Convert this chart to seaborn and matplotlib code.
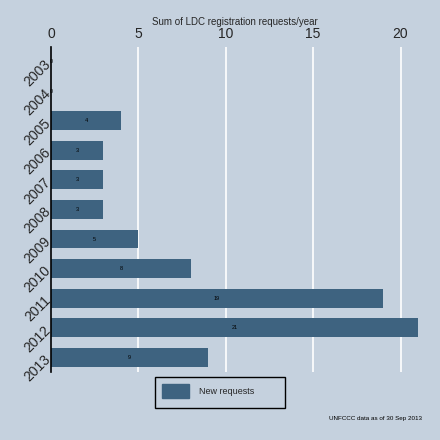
import matplotlib
matplotlib.use("Agg")
import matplotlib.pyplot as plt
from matplotlib.patches import Patch, Rectangle
import pandas as pd
import seaborn as sns

years = ["2003", "2004", "2005", "2006", "2007", "2008",
         "2009", "2010", "2011", "2012", "2013"]
requests = [0, 0, 4, 3, 3, 3, 5, 8, 19, 21, 9]
x_ticks = [0, 5, 10, 15, 20]

BG = "#c5d1de"
BAR = "#3e6380"

df = pd.DataFrame({"year": years, "requests": requests})

sns.set_style("white")
plt.rcParams["font.family"] = ["Liberation Sans", "DejaVu Sans"]

fig = plt.figure(figsize=(4.4, 4.4), dpi=100, facecolor=BG)
ax = fig.add_axes([51 / 440, 1 - 372 / 440, (418 - 51) / 440, (372 - 47) / 440])
ax.set_facecolor(BG)

sns.barplot(data=df, x="requests", y="year", orient="h", color=BAR,
            width=0.64, saturation=1, linewidth=0, edgecolor=BAR,
            ax=ax, zorder=2)

# value labels, centered in each bar
for i, v in enumerate(requests):
    ax.text(v / 2, i, str(v), ha="center", va="center", fontsize=4,
            color="black", zorder=3)

ax.set_xlim(0, 21)
ax.set_ylim(10.5, -0.5)
ax.set_xticks(x_ticks)
ax.xaxis.tick_top()
ax.xaxis.set_label_position("top")
ax.set_xlabel("Sum of LDC registration requests/year", fontsize=7, labelpad=2)
ax.set_ylabel("")
ax.tick_params(axis="x", length=0, pad=4, labelsize=10)
ax.tick_params(axis="y", length=0, pad=2, labelsize=10)
for lbl in ax.get_yticklabels():
    lbl.set_rotation(45)
    lbl.set_ha("right")
    lbl.set_va("center")
    lbl.set_rotation_mode("anchor")

for t in x_ticks[1:]:
    ax.axvline(t, color="white", lw=1.2, zorder=1)

for side in ["top", "right", "bottom"]:
    ax.spines[side].set_visible(False)
ax.spines["left"].set_color("black")
ax.spines["left"].set_linewidth(1.2)
ax.spines["left"].set_zorder(4)

# legend box drawn in figure pixels, legend entry inside it
fig.patches.append(Rectangle((155 / 440, 1 - 408 / 440), 130 / 440, 31 / 440,
                             transform=fig.transFigure, facecolor=BG,
                             edgecolor="black", linewidth=1))
fig.legend(handles=[Patch(facecolor=BAR, edgecolor=BAR, label="New requests")],
           loc="upper left", bbox_to_anchor=(162 / 440, 1 - 384 / 440),
           frameon=False, fontsize=6.5,
           handlelength=3.0, handleheight=2.0, handletextpad=1.1,
           borderpad=0, borderaxespad=0)

fig.text(422 / 440, 1 - 418 / 440, "UNFCCC data as of 30 Sep 2013",
         ha="right", va="center", fontsize=4.5, color="black")

fig.savefig("out.png", dpi=100, facecolor=BG)
